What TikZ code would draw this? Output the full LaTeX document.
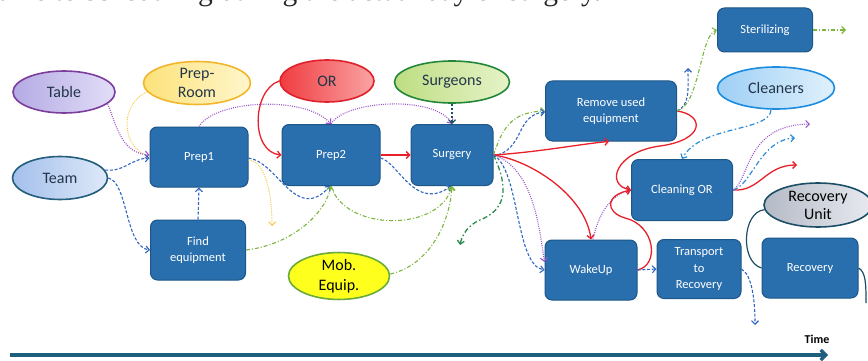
\documentclass[tikz,border=0pt]{standalone}
\usepackage{fontspec}
\newfontfamily\carl{Carlito}
\newfontfamily\libser{Liberation Serif}
\usetikzlibrary{shapes.geometric,arrows.meta}
\definecolor{boxfill}{HTML}{2A6FAD}
\definecolor{boxline}{HTML}{1D5688}
\definecolor{ellt}{HTML}{22364A}
\definecolor{purp}{HTML}{9B55C8}
\definecolor{bluec}{HTML}{2F66C0}
\definecolor{lgreen}{HTML}{7DB540}
\definecolor{dgreen}{HTML}{2B8A4A}
\definecolor{redc}{HTML}{E8202A}
\definecolor{yel}{HTML}{F5C842}
\definecolor{tealc}{HTML}{1B4F66}
\definecolor{cblue}{HTML}{2A8BDA}
\definecolor{timec}{HTML}{1E5F7E}
% ellipse colours
\definecolor{tabL}{HTML}{B4AAE4}\definecolor{tabR}{HTML}{E2DEF7}\definecolor{tabB}{HTML}{7B3C9C}
\definecolor{prL}{HTML}{FCE27A}\definecolor{prR}{HTML}{FFF6CC}\definecolor{prB}{HTML}{F2B62C}
\definecolor{orL}{HTML}{F03C40}\definecolor{orR}{HTML}{F9A4A4}\definecolor{orB}{HTML}{E0202A}
\definecolor{suL}{HTML}{BEDD82}\definecolor{suR}{HTML}{E6F3C8}\definecolor{suB}{HTML}{23873A}
\definecolor{teL}{HTML}{A4C0EC}\definecolor{teR}{HTML}{DEE9F9}\definecolor{teB}{HTML}{245E7C}
\definecolor{moF}{HTML}{FFFF1E}\definecolor{moB}{HTML}{6AAA3A}
\definecolor{clL}{HTML}{9ECFF5}\definecolor{clR}{HTML}{E0F1FC}\definecolor{clB}{HTML}{1C8CE0}
\definecolor{ruL}{HTML}{B4BAC6}\definecolor{ruR}{HTML}{E8EAF0}\definecolor{ruB}{HTML}{1B4F66}
\begin{document}
\begin{tikzpicture}[x=1pt,y=-1pt,
  box/.style={draw=boxline, line width=1pt, fill=boxfill, rounded corners=7pt, text=white,
    font=\carl\fontsize{12.5}{16.5}\selectfont, align=center, inner sep=0pt},
  ell/.style={ellipse, line width=1.6pt, inner sep=0pt, font=\carl\fontsize{16}{19.5}\selectfont,
    align=center, text=ellt},
  arr/.style={-{Straight Barb[length=3.5pt,width=7pt]}},
  pdot/.style={draw=purp, line width=1.1pt, dash pattern=on 1pt off 1.2pt},
  bdash/.style={draw=bluec, line width=1.1pt, dash pattern=on 3pt off 1.8pt},
  gdd/.style={draw=lgreen, line width=1.1pt, dash pattern=on 4pt off 2pt on 1pt off 2pt},
  dgdd/.style={draw=dgreen, line width=1.3pt, dash pattern=on 5pt off 2.5pt on 1.5pt off 2.5pt},
  cdd/.style={draw=cblue, line width=1.2pt, dash pattern=on 5pt off 2.5pt on 1.5pt off 2.5pt},
  redl/.style={draw=redc, line width=1.3pt},
  ydot/.style={draw=yel, line width=1pt, dash pattern=on 1pt off 1.2pt},
  tealdash/.style={draw=tealc, line width=1.1pt, dash pattern=on 2.5pt off 1.5pt},
  teall/.style={draw=tealc, line width=1.2pt}]
\useasboundingbox (0,0) rectangle (868,361);
\clip (0,0) rectangle (868,361);

% cropped caption line at top (as in the reference, only its lower part shows)
\node[anchor=base west, inner sep=0pt, font=\libser\fontsize{29.5}{31}\selectfont, text=black!85] (caption) at (-2,0.5) {ame to scheduling during the actual day of surgery.};

% ellipses
\node[ell, draw=tabB, left color=tabL, right color=tabR, minimum width=102pt, minimum height=42pt] (table) at (64,92) {Table};
\node[ell, draw=prB, left color=prL, right color=prR, minimum width=107pt, minimum height=43pt] (preproom) at (197,83) {Prep-\\Room};
\node[ell, draw=orB, left color=orL, right color=orR, minimum width=94pt, minimum height=42pt] (orell) at (327,81) {OR};
\node[ell, draw=suB, left color=suL, right color=suR, minimum width=115pt, minimum height=42pt] (surgeons) at (452,82) {Surgeons};
\node[ell, draw=teB, left color=teL, right color=teR, minimum width=95pt, minimum height=43pt] (team) at (60,178) {Team};
\node[ell, draw=moB, fill=moF, text=black, minimum width=101pt, minimum height=45pt] (mobequip) at (339,276) {Mob.\\Equip.};
\node[ell, draw=clB, left color=clL, right color=clR, minimum width=117pt, minimum height=42pt] (cleaners) at (776,88) {Cleaners};
\node[ell, draw=ruB, left color=ruL, right color=ruR, text=black, minimum width=108pt, minimum height=44pt, font=\carl\fontsize{16}{18}\selectfont] (recunit) at (818,205) {Recovery\\Unit};

% boxes
\node[box, minimum width=98pt, minimum height=60pt] (prep1) at (199,157) {Prep1};
\node[box, minimum width=98pt, minimum height=61pt] (prep2) at (331,155) {Prep2};
\node[box, minimum width=82pt, minimum height=61pt] (surgery) at (452,155) {Surgery};
\node[box, minimum width=95pt, minimum height=60pt] (findeq) at (198,250) {Find\\equipment};
\node[box, minimum width=131pt, minimum height=60pt] (remove) at (611,111) {Remove used\\equipment};
\node[box, minimum width=95pt, minimum height=44pt] (steril) at (765,30) {Sterilizing};
\node[box, minimum width=101pt, minimum height=61pt] (cleanor) at (682,190) {Cleaning OR};
\node[box, minimum width=92pt, minimum height=60pt] (wakeup) at (591,270) {WakeUp};
\node[box, minimum width=84pt, minimum height=59pt] (transport) at (699,269) {Transport\\to\\Recovery};
\node[box, minimum width=96pt, minimum height=60pt] (recovery) at (810,268) {Recovery};

% free ends
\coordinate (yelend) at (272,226);
\coordinate (gend) at (460,245);
\coordinate (bup) at (688,68);
\coordinate (sterend) at (846,30);
\coordinate (redend) at (797,165);
\coordinate (blend) at (795,138);
\coordinate (pend) at (810,124);
\coordinate (tend) at (755,325);
\coordinate (rend) at (866,303);
\coordinate (tstart) at (10,355);
\coordinate (tstop) at (828,355);
\coordinate (mid2) at (660,146);
\coordinate (mid3) at (625,218);
\coordinate (mid4) at (480,220);

% left part
\draw[ydot] (preproom.190) .. controls (118,105) and (122,150) .. ([yshift=1pt]prep1.west);
\draw[pdot,arr] (table.-15) .. controls (117,128) and (122,153) .. ([yshift=2pt]prep1.west);
\draw[bdash,arr] (team.10) .. controls (125,172) and (130,159) .. ([yshift=-1pt]prep1.west);
\draw[bdash,arr] (team.0) .. controls (128,182) and (125,247) .. (findeq.west);
\draw[bdash,arr] (findeq.north) -- (prep1.south);
\draw[ydot,arr] ([yshift=-3pt]prep1.east) .. controls (262,160) and (272,185) .. (yelend);
\draw[bdash,arr] ([yshift=-1pt]prep1.east) .. controls (278,162) and (296,224) .. ([xshift=-1pt]prep2.south);
\draw[gdd,arr] (findeq.east) .. controls (290,245) and (325,215) .. (prep2.south);
\draw[redl,arr] (orell.west) .. controls (252,90) and (250,152) .. (prep2.west);
\draw[pdot,arr] (prep1.north) .. controls (215,100) and (305,95) .. (prep2.north);
\draw[pdot,arr] (prep2.north) .. controls (345,100) and (435,95) .. (surgery.north);
\draw[tealdash,arr] (surgeons.south) -- (surgery.north);
\draw[redl,arr] (prep2.east) -- (surgery.west);
\draw[bdash,arr] ([yshift=-3pt]prep2.east) .. controls (398,162) and (415,212) .. ([xshift=-1pt]surgery.south);
\draw[gdd,arr] (prep2.south) .. controls (345,232) and (440,232) .. (surgery.south);
\draw[gdd,arr] ([yshift=2pt]mobequip.east) .. controls (430,265) and (450,222) .. (surgery.south);

% from Surgery
\draw[gdd,arr] (surgery.east) .. controls (502,130) and (510,112) .. (remove.west);
\draw[bdash,arr] ([yshift=-1pt]surgery.east) .. controls (525,150) and (515,115) .. ([yshift=-1pt]remove.west);
\draw[redl,arr] (surgery.east) .. controls (540,152) and (580,144) .. ([xshift=-2pt]remove.south);
\draw[redl,arr] (surgery.east) .. controls (530,160) and (585,195) .. (wakeup.north);
\draw[dgdd,arr] (surgery.east) .. controls (510,190) and (505,210) .. (mid4) .. controls (468,225) and (462,235) .. (gend);
\draw[bdash,arr] (surgery.east) .. controls (520,170) and (515,265) .. (wakeup.west);
\draw[pdot,arr] (surgery.east) .. controls (535,168) and (540,235) .. ([yshift=8pt]wakeup.west);

% from Remove used equipment
\draw[redl,arr] (remove.east) .. controls (705,115) and (705,140) .. (mid2) .. controls (615,152) and (605,185) .. (cleanor.west);
\draw[bdash,arr] (remove.east) .. controls (690,105) and (688,90) .. (bup);
\draw[gdd,arr] (remove.east) .. controls (700,105) and (700,35) .. (steril.west);
\draw[gdd,arr] (steril.east) -- (sterend);

% Cleaners and Cleaning OR
\draw[cdd,arr] ([xshift=-5pt]cleaners.south) .. controls (770,132) and (700,125) .. (cleanor.north);
\draw[redl,arr] (cleanor.east) .. controls (760,192) and (765,165) .. (redend);
\draw[cdd,arr] (cleanor.east) .. controls (752,185) and (760,140) .. (blend);
\draw[pdot,arr] (cleanor.east) .. controls (750,180) and (745,125) .. (pend);

% WakeUp, Transport, Recovery
\draw[pdot,arr] ([xshift=2pt]wakeup.north) .. controls (598,215) and (610,195) .. (cleanor.west);
\draw[redl,arr] (wakeup.east) .. controls (660,265) and (655,225) .. (mid3) .. controls (605,212) and (605,195) .. (cleanor.west);
\draw[bdash,arr] (wakeup.east) -- (transport.west);
\draw[bdash,arr] (transport.east) .. controls (752,275) and (755,300) .. (tend);
\draw[teall] (recunit.185) .. controls (742,212) and (740,262) .. (recovery.west);
\draw[teall] (recovery.east) .. controls (866,272) and (866,285) .. (rend);

% time axis
\draw[draw=timec, line width=3.2pt, -{Straight Barb[length=5pt,width=10pt]}] (tstart) -- (tstop);
\node[font=\carl\bfseries\fontsize{12}{14}\selectfont, inner sep=0pt] (timelbl) at (817,339) {Time};
\end{tikzpicture}
\end{document}
